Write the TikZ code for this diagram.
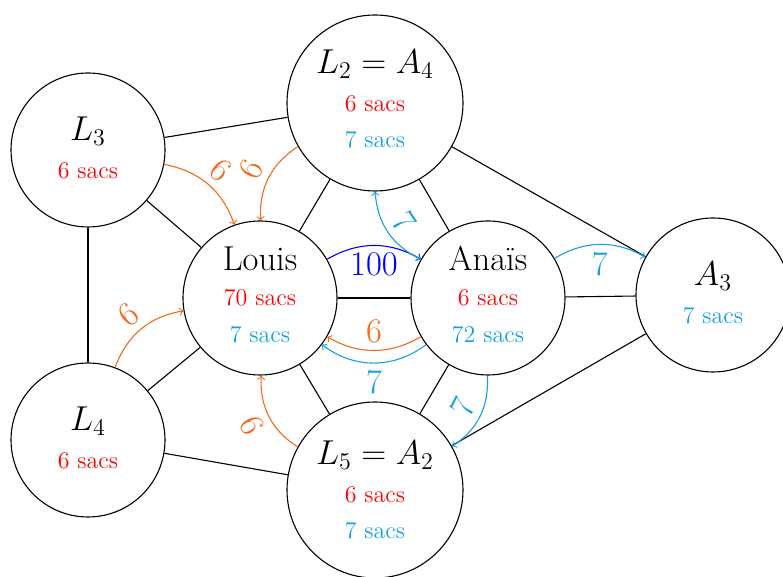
\documentclass[tikz,border=0pt]{standalone}
\usepackage{fontspec}
\definecolor{orangec}{RGB}{240,108,28}
\definecolor{cyanc}{RGB}{20,160,225}
\newcommand\bigtxt{\LARGE}
% invisible depth at the foot of a node text, to lift the block a little
\newcommand\footpad[1]{\rule[-#1]{0pt}{0pt}}
\tikzset{
  vtx/.style={circle, draw, minimum size=77pt, inner sep=0pt, align=center, font=\large},
  bigvtx/.style={vtx, minimum size=88pt},
  lab/.style={font=\bigtxt},
}
\begin{document}
\begin{tikzpicture}[x=0.5pt,y=0.5pt,line width=0.55pt]
\useasboundingbox (0,0) rectangle (783,577);

% people and stores
\node[vtx] (L3) at (88,427) {{\bigtxt $L_3$}\\[5pt] \textcolor{red}{6 sacs}\footpad{2pt}};
\node[vtx] (L4) at (88,137) {{\bigtxt $L_4$}\\[5pt] \textcolor{red}{6 sacs}\footpad{2pt}};
\node[vtx] (Louis) at (260,279) {{\bigtxt Louis}\\[3.5pt] \textcolor{red}{70 sacs}\\[4.5pt] \textcolor{cyanc}{7 sacs}\footpad{3.5pt}};
\node[vtx] (Anais) at (488,279) {{\bigtxt Anaïs}\\[3.5pt] \textcolor{red}{6 sacs}\\[4.5pt] \textcolor{cyanc}{72 sacs}\footpad{3.5pt}};
\node[bigvtx] (L2) at (375,474) {{\bigtxt $L_2 = A_4$}\\[5pt] \textcolor{red}{6 sacs}\\[4pt] \textcolor{cyanc}{7 sacs}\footpad{4pt}};
\node[bigvtx] (L5) at (375,87) {{\bigtxt $L_5 = A_2$}\\[5pt] \textcolor{red}{6 sacs}\\[4pt] \textcolor{cyanc}{7 sacs}};
\node[vtx] (A3) at (713,282) {{\bigtxt $A_3$}\\[5pt] \textcolor{cyanc}{7 sacs}\footpad{2pt}};

% plain links
\draw (L3) -- (L2);
\draw (L3) -- (Louis);
\draw (L3) -- (L4);
\draw (L4) -- (Louis);
\draw (L4) -- (L5);
\draw (Louis) -- (L2);
\draw (Louis) -- (Anais);
\draw (Louis) -- (L5);
\draw (L2) -- (Anais);
\draw (L2) -- (A3);
\draw (Anais) -- (A3);
\draw (Anais) -- (L5);
\draw (A3) -- (L5);

% orange transfers
\draw[->, orangec] (L3) to[bend left=30] node[lab, sloped, above] {6} (Louis);
\draw[->, orangec] (L2) to[bend right=30] node[lab, sloped, above] {6} (Louis);
\draw[->, orangec] (L4) to[bend left=30] node[lab, sloped, above] {6} (Louis);
\draw[->, orangec] (L5) to[bend left=30] node[lab, sloped, below] {6} (Louis);
\draw[->, orangec] (Anais) to[bend left=30] node[lab, above] {6} (Louis);

% blue transfers
\draw[->, blue] (Louis) to[bend left=30] node[lab, below] {100} (Anais);
\draw[<->, cyanc] (L2) to[bend right=30] node[lab, sloped, above] {7} (Anais);
\draw[->, cyanc] (Anais) to[bend left=30] node[lab, below] {7} (A3);
\draw[->, cyanc] (Anais) to[bend left=37] node[lab, below] {7} (Louis);
\draw[->, cyanc] (Anais) to[bend left=30] node[lab, sloped, above] {7} (L5);
\end{tikzpicture}
\end{document}
